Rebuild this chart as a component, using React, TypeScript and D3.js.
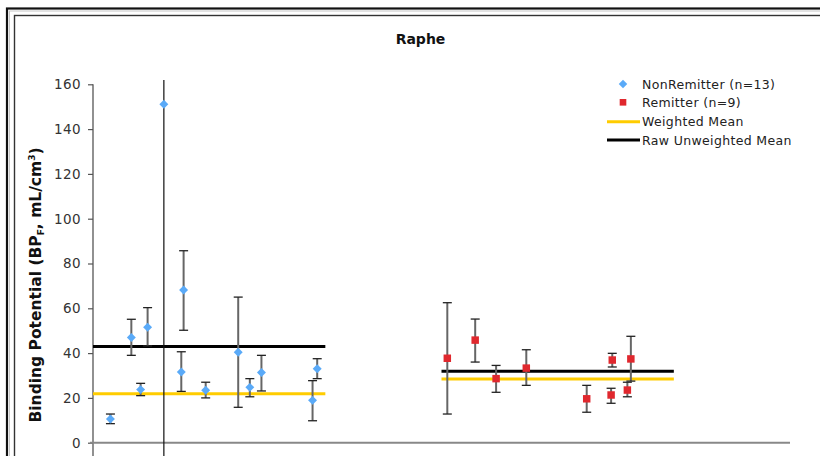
import React, { useEffect, useRef } from 'react';
import * as d3 from 'd3';

// values
const nonRemitterX = [1.5, 3.3, 4.1, 4.7, 6.1, 7.8, 7.6, 9.7, 12.5, 13.5, 14.5, 18.9, 19.3];
const nonRemitterBP = [10.6, 47.0, 23.7, 51.5, 151.1, 68.2, 31.6, 23.4, 40.4, 24.7, 31.3, 18.9, 33.0];
const nonRemitterLow = [8.5, 39.0, 21.0, 43.2, -60, 50.2, 22.9, 20.0, 15.8, 20.5, 23.1, 9.8, 28.6];
const nonRemitterHigh = [12.8, 55.1, 26.5, 60.3, 360, 85.7, 40.6, 27.0, 65.0, 28.6, 39.0, 27.7, 37.5];

const remitterX = [30.5, 32.9, 34.7, 37.3, 42.5, 44.7, 44.6, 46.0, 46.3];
const remitterBP = [37.7, 45.8, 28.6, 33.3, 19.6, 36.9, 21.3, 23.5, 37.4];
const remitterLow = [12.8, 36.0, 22.5, 25.6, 13.6, 33.8, 17.6, 20.5, 27.5];
const remitterHigh = [62.5, 55.2, 34.5, 41.5, 25.6, 39.9, 24.3, 27.0, 47.5];

const groupStart = [0, 30];
const groupEnd = [20, 50];
const weightedMean = [21.9, 28.4];
const rawMean = [43.0, 31.9];

const yTicks = [0, 20, 40, 60, 80, 100, 120, 140, 160];
const legendLabels = ['NonRemitter (n=13)', 'Remitter (n=9)', 'Weighted Mean', 'Raw Unweighted Mean'];

const W = 820;
const H = 456;
const BLUE = '#5aaaf8';
const RED = '#e0282e';
const YELLOW = '#ffcc00';

export default function App() {
  const ref = useRef<SVGSVGElement | null>(null);

  useEffect(() => {
    const svg = d3.select(ref.current);
    svg.selectAll('*').remove();

    // frame
    svg.append('rect').attr('x', 7).attr('y', 8.5).attr('width', 900).attr('height', 600)
      .attr('fill', 'none').attr('stroke', '#111').attr('stroke-width', 2.2);
    svg.append('rect').attr('x', 9.5).attr('y', 11).attr('width', 900).attr('height', 600)
      .attr('fill', 'none').attr('stroke', '#c8c8c8').attr('stroke-width', 1);
    svg.append('rect').attr('x', 14.5).attr('y', 15.5).attr('width', 900).attr('height', 600)
      .attr('fill', 'none').attr('stroke', '#333').attr('stroke-width', 1.4);

    const x = d3.scaleLinear().domain([0, 60]).range([93, 790]);
    const y = d3.scaleLinear().domain([0, 160]).range([442.7, 84.3]);

    svg.append('text').attr('x', 420.5).attr('y', 44).attr('text-anchor', 'middle')
      .attr('font-family', 'DejaVu Sans').attr('font-weight', 'bold').attr('font-size', 14)
      .attr('fill', '#111').text('Raphe');

    // y axis
    const yaxis = d3.axisLeft(y).tickValues(yTicks).tickSize(5).tickPadding(7);
    const ga = svg.append('g').attr('transform', 'translate(93,0)').call(yaxis);
    ga.select('.domain').remove();
    ga.selectAll('line').attr('stroke', '#555').attr('stroke-width', 1.2);
    ga.selectAll('text').attr('font-family', 'DejaVu Sans').attr('font-size', 13.5)
      .attr('letter-spacing', 0.4).attr('fill', '#333');
    svg.append('line').attr('x1', 93).attr('x2', 93).attr('y1', y(160)).attr('y2', H)
      .attr('stroke', '#555').attr('stroke-width', 1.3);

    // x axis at zero
    svg.append('line').attr('x1', 90).attr('x2', x(60)).attr('y1', y(0)).attr('y2', y(0))
      .attr('stroke', '#888').attr('stroke-width', 2);

    const ylab = svg.append('text').attr('transform', 'translate(41,285) rotate(-90)')
      .attr('text-anchor', 'middle').attr('font-family', 'DejaVu Sans').attr('font-weight', 'bold')
      .attr('font-size', 15.5).attr('fill', '#111');
    ylab.append('tspan').text('Binding Potential (BP');
    ylab.append('tspan').attr('font-size', 9).attr('dy', 3).text('F');
    ylab.append('tspan').attr('dy', -3).text(', mL/cm');
    ylab.append('tspan').attr('font-size', 9).attr('dy', -6).text('3');
    ylab.append('tspan').attr('dy', 6).text(')');

    svg.append('clipPath').attr('id', 'plot').append('rect')
      .attr('x', 93).attr('y', 80).attr('width', 700).attr('height', 400);
    const plot = svg.append('g').attr('clip-path', 'url(#plot)');

    // mean lines
    d3.range(groupStart.length).forEach((g) => {
      plot.append('line').attr('x1', x(groupStart[g])).attr('x2', x(groupEnd[g]))
        .attr('y1', y(rawMean[g])).attr('y2', y(rawMean[g]))
        .attr('stroke', '#000').attr('stroke-width', 3);
      plot.append('line').attr('x1', x(groupStart[g])).attr('x2', x(groupEnd[g]))
        .attr('y1', y(weightedMean[g])).attr('y2', y(weightedMean[g]))
        .attr('stroke', YELLOW).attr('stroke-width', 3);
    });

    // diamonds are squares turned 45 degrees
    const series = [
      { xs: nonRemitterX, ys: nonRemitterBP, lo: nonRemitterLow, hi: nonRemitterHigh, size: 40, rot: 45, color: BLUE },
      { xs: remitterX, ys: remitterBP, lo: remitterLow, hi: remitterHigh, size: 56, rot: 0, color: RED },
    ];

    series.forEach((s) => {
      s.xs.forEach((xv, i) => {
        const off = s.hi[i] > 160;
        plot.append('line').attr('x1', x(xv)).attr('x2', x(xv))
          .attr('y1', y(s.lo[i])).attr('y2', y(s.hi[i]))
          .attr('stroke', off ? '#111' : '#666').attr('stroke-width', off ? 1.2 : 2);
        [s.lo[i], s.hi[i]].forEach((v) => {
          plot.append('line').attr('x1', x(xv) - 4.5).attr('x2', x(xv) + 4.5)
            .attr('y1', y(v)).attr('y2', y(v)).attr('stroke', '#222').attr('stroke-width', 1.3);
        });
      });
      plot.selectAll(null).data(s.xs).enter().append('path')
        .attr('d', d3.symbol().type(d3.symbolSquare).size(s.size))
        .attr('transform', (d, i) => 'translate(' + x(d) + ',' + y(s.ys[i]) + ') rotate(' + s.rot + ')')
        .attr('fill', s.color);
    });

    // legend
    const lg = svg.append('g');
    const rows = [84, 102.3, 121.7, 140];
    legendLabels.forEach((t, i) => {
      lg.append('text').attr('x', 642).attr('y', rows[i]).attr('dy', '0.36em')
        .attr('font-family', 'DejaVu Sans').attr('font-size', 12.5).attr('letter-spacing', 0.35)
        .attr('fill', '#222').text(t);
    });
    lg.append('path').attr('d', d3.symbol().type(d3.symbolSquare).size(36)).attr('fill', BLUE)
      .attr('transform', 'translate(623,' + rows[0] + ') rotate(45)');
    lg.append('path').attr('d', d3.symbol().type(d3.symbolSquare).size(44)).attr('fill', RED)
      .attr('transform', 'translate(623,' + rows[1] + ')');
    lg.append('line').attr('x1', 607).attr('x2', 640).attr('y1', rows[2]).attr('y2', rows[2])
      .attr('stroke', YELLOW).attr('stroke-width', 3);
    lg.append('line').attr('x1', 607).attr('x2', 640).attr('y1', rows[3]).attr('y2', rows[3])
      .attr('stroke', '#000').attr('stroke-width', 3);
  }, []);

  return (
    <svg ref={ref} width={W} height={H}
      style={{ position: 'absolute', left: 0, top: 0, background: '#fff' }} />
  );
}
